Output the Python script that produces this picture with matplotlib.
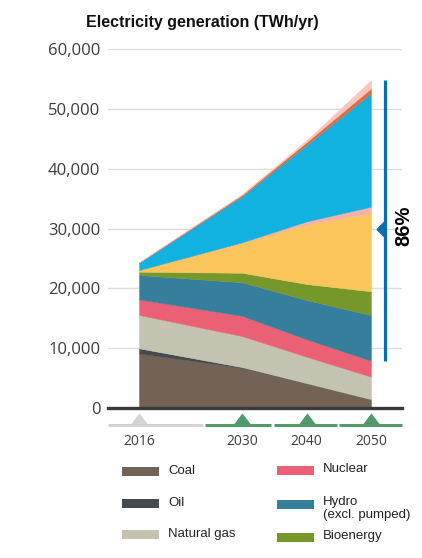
import numpy as np
import matplotlib
matplotlib.use("Agg")
import matplotlib.pyplot as plt
from matplotlib.patches import Rectangle
from matplotlib.transforms import blended_transform_factory

# ---------------- data (TWh/yr) ----------------
years = [2016, 2030, 2040, 2050]
sources = ["Coal", "Oil", "Natural gas", "Nuclear", "Hydro\n(excl. pumped)", "Bioenergy",
           "Solar PV", "CSP", "Wind", "Geothermal", "Others"]
coal       = [9100, 6700, 4100, 1400]
oil        = [850, 100, 0, 0]
natural_gas = [5580, 5200, 4440, 3790]
nuclear    = [2620, 3400, 2920, 2680]
hydro      = [4080, 5600, 6580, 7630]
bioenergy  = [550, 1600, 2680, 4000]
solar_pv   = [280, 5000, 9980, 13100]
csp        = [0, 100, 500, 1070]
wind       = [1230, 7700, 12800, 18990]
geothermal = [50, 250, 500, 840]
others     = [30, 100, 300, 1390]
renew_share_label = "86%"
yticks = [0, 10000, 20000, 30000, 40000, 50000, 60000]
ytick_labels = ["0", "10,000", "20,000", "30,000", "40,000", "50,000", "60,000"]
legend_items = ["Coal", "Oil", "Natural gas", "Nuclear", "Hydro\n(excl. pumped)", "Bioenergy"]

colors = ["#736357", "#454a4f", "#c4c3b2", "#ea6176", "#357f9c", "#76982b",
          "#fdc65c", "#f7b1a6", "#12b2e0", "#dd6d43", "#f7c6c2"]

series = [coal, oil, natural_gas, nuclear, hydro, bioenergy, solar_pv, csp, wind, geothermal, others]

# ---------------- figure ----------------
W, H = 422, 558
fig = plt.figure(figsize=(W / 100, H / 100), dpi=100)
fig.patch.set_facecolor("white")

def fx(px):
    return px / W

def fy(py):
    return 1 - py / H

ax_l, ax_r, ax_t, ax_b = 108, 402, 49.5, 407.7
ax = fig.add_axes([fx(ax_l), fy(ax_b), fx(ax_r - ax_l), (ax_b - ax_t) / H])

# irregular year axis as in the reference (2016-2030 wider per year than 2030-2050)
k1, k2 = 103 / 14, 129 / 20
def fwd(x):
    x = np.asarray(x, float)
    return np.where(x < 2030, (x - 2016) * k1, 14 * k1 + (x - 2030) * k2)
def inv(u):
    u = np.asarray(u, float)
    return np.where(u < 14 * k1, 2016 + u / k1, 2030 + (u - 14 * k1) / k2)
ax.set_xscale("function", functions=(fwd, inv))

ax.stackplot(years, *series, colors=colors, linewidth=0.3, labels=sources)
for coll, c in zip(ax.collections, colors):
    coll.set_edgecolor(c)

ax.set_xlim(float(inv(-(139 - ax_l))), float(inv(ax_r - 139)))
ax.set_ylim(0, 60000)

for s in ax.spines.values():
    s.set_visible(False)

tick_font = "Open Sans"
ax.set_yticks(yticks)
ax.set_yticklabels(ytick_labels, fontsize=12, color="#3c3c3c", family=tick_font)
ax.tick_params(axis="y", length=0, pad=5.5)
ax.yaxis.grid(True, color="#dcdcdc", lw=1)
ax.set_axisbelow(True)
ax.axhline(0, color="#3a3a3a", lw=2.4, zorder=5, clip_on=False)

ax.set_xticks(years)
ax.set_xticklabels([str(y) for y in years], fontsize=10, color="#3c3c3c", family=tick_font)
ax.tick_params(axis="x", length=0, pad=19)

# timeline under the axis
bt = blended_transform_factory(ax.transAxes, ax.transAxes)
line_y = -(425 - ax_b) / (ax_b - ax_t)
segs = [((108, 203), "#d4d4d4"), ((205, 271), "#4f9a6b"), ((274, 337), "#4f9a6b"), ((339, 402), "#4f9a6b")]
for (a, b), c in segs:
    ax.plot([(a - ax_l) / (ax_r - ax_l), (b - ax_l) / (ax_r - ax_l)], [line_y, line_y],
            transform=bt, color=c, lw=2.2, solid_capstyle="butt", clip_on=False)
tri = [(-0.75, 0), (0.75, 0), (0, 1), (-0.75, 0)]
bx = blended_transform_factory(ax.transData, ax.transAxes)
for i, yr in enumerate(years):
    c = "#d4d4d4" if i == 0 else "#4f9a6b"
    ax.plot([yr], [line_y + 0.004], transform=bx, marker=tri, markersize=14.4,
            color=c, linestyle="none", clip_on=False)

# renewables bracket for 2050
cum = np.cumsum(np.array(series), axis=0)
bottom_r = cum[3][-1]
top_r = cum[-1][-1]
bl = blended_transform_factory(ax.transAxes, ax.transData)
xb = (385 - ax_l) / (ax_r - ax_l)
ax.plot([xb, xb], [bottom_r, top_r], transform=bl, color="#0d6fa5", lw=2.3,
        solid_capstyle="butt", clip_on=False)
ax.plot([xb], [30000], transform=bl, marker=[(-1, 0), (0, 1), (0, -1), (-1, 0)],
        markersize=12.2, color="#0d6fa5", linestyle="none", clip_on=False)
ax.text((404 - ax_l) / (ax_r - ax_l), 30500, renew_share_label, transform=bl,
        rotation=90, ha="center", va="center", fontsize=14.5, fontweight="bold",
        family="Liberation Sans", color="black", clip_on=False)

# title
fig.text(fx(202), fy(23), "Electricity generation (TWh/yr)", ha="center", va="center",
         fontsize=11.5, fontweight="bold", family="Liberation Sans", color="#111111")

# legend (manual layout, two columns)
pos = [(122, 471.5), (122, 503.5), (122, 534.5), (277, 470.5), (277, 504), (277, 537.5)]
for name, (px, py) in zip(legend_items, pos):
    c = colors[sources.index(name)]
    fig.add_artist(Rectangle((fx(px), fy(py + 4.5)), fx(37), 9 / H, transform=fig.transFigure,
                             facecolor=c, edgecolor="none"))
    if "\n" in name:
        fig.text(fx(px + 46), fy(py - 8.5), name, ha="left", va="top", fontsize=9.5,
                 family="Liberation Sans", color="#222222", linespacing=1.15)
    else:
        fig.text(fx(px + 46), fy(py - 1), name, ha="left", va="center", fontsize=9.5,
                 family="Liberation Sans", color="#222222")

fig.savefig("out.png", dpi=100, facecolor="white")
